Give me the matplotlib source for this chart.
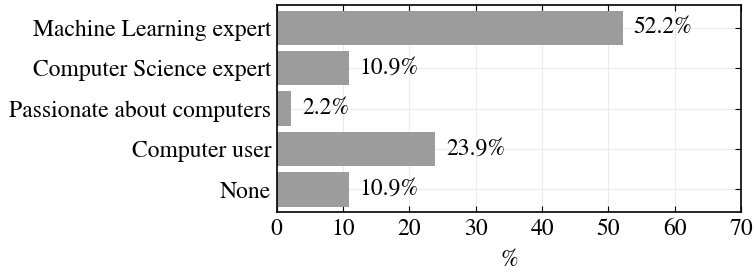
import numpy as np
import matplotlib
matplotlib.use('Agg')
import matplotlib.pyplot as plt

plt.rcParams['font.family'] = ['STIXGeneral', 'DejaVu Serif']
plt.rcParams['mathtext.fontset'] = 'stix'

categories = ['Machine Learning expert', 'Computer Science expert',
              'Passionate about computers', 'Computer user', 'None']
values = [52.2, 10.9, 2.2, 23.9, 10.9]
xticks = [0, 10, 20, 30, 40, 50, 60, 70]

fig, ax = plt.subplots(figsize=(7.54, 2.73), dpi=100)
fig.subplots_adjust(left=0.367, right=0.983, top=0.98, bottom=0.225)

y = np.arange(len(categories))
ax.barh(y, values, height=0.85, color='#9c9c9c', zorder=2)
for yi, v in zip(y, values):
    ax.text(v + 1.6, yi, '%.1f%%' % v, va='center', ha='left', fontsize=17)

ax.set_yticks(y)
ax.set_yticklabels(categories, fontsize=17)
ax.set_ylim(4.55, -0.55)
ax.set_xlim(0, 70)
ax.set_xticks(xticks)
ax.tick_params(axis='x', labelsize=17, pad=5)
ax.set_xlabel('%', fontsize=17, labelpad=7)
ax.tick_params(direction='in', top=True, right=True, length=4, width=0.8)
ax.tick_params(axis='y', pad=4)
ax.grid(True, color='#ebebeb', linewidth=0.8, zorder=0)
ax.set_axisbelow(True)
for s in ax.spines.values():
    s.set_linewidth(1.2)

fig.savefig('out.png', dpi=100)
